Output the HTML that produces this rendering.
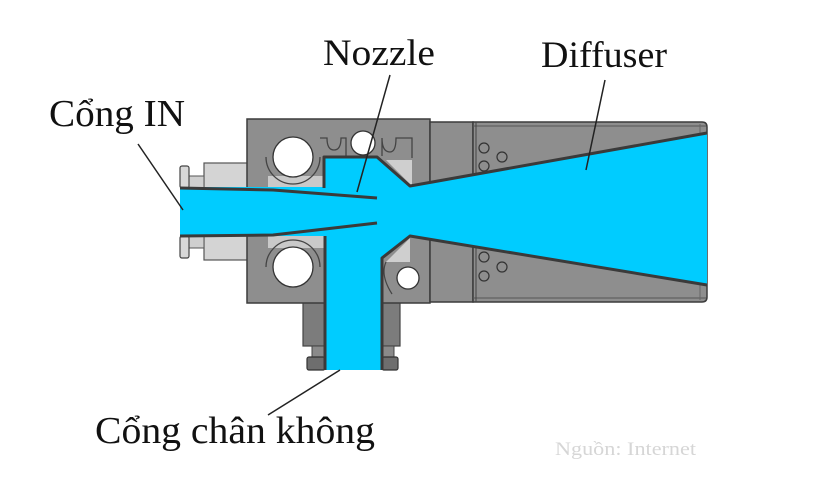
<!DOCTYPE html>
<html>
<head>
<meta charset="utf-8">
<style>
html,body{margin:0;padding:0;background:#fff;}
svg{display:block;}
text{font-family:"Liberation Serif","Noto Serif CJK SC",serif;}
</style>
</head>
<body>
<svg width="825" height="490" viewBox="0 0 825 490" xmlns="http://www.w3.org/2000/svg">
  <rect width="825" height="490" fill="#fff"/>

  <!-- Left inlet fitting -->
  <rect x="204" y="163" width="44" height="26" fill="#d4d4d4" stroke="#555" stroke-width="1.2"/>
  <rect x="204" y="235" width="44" height="25" fill="#d4d4d4" stroke="#555" stroke-width="1.2"/>
  <rect x="189" y="176" width="15" height="12" fill="#cfcfcf" stroke="#555" stroke-width="1"/>
  <rect x="189" y="236" width="15" height="12" fill="#cfcfcf" stroke="#555" stroke-width="1"/>
  <rect x="180" y="166" width="9" height="22" rx="2" fill="#d8d8d8" stroke="#444" stroke-width="1.2"/>
  <rect x="180" y="236" width="9" height="22" rx="2" fill="#d8d8d8" stroke="#444" stroke-width="1.2"/>

  <!-- Lower vacuum fitting -->
  <rect x="303" y="302" width="22" height="44" fill="#7c7c7c" stroke="#444" stroke-width="1.2"/>
  <rect x="382" y="302" width="18" height="44" fill="#7c7c7c" stroke="#444" stroke-width="1.2"/>
  <rect x="312" y="346" width="13" height="12" fill="#8a8a8a" stroke="#444" stroke-width="1"/>
  <rect x="382" y="346" width="12" height="12" fill="#8a8a8a" stroke="#444" stroke-width="1"/>
  <rect x="307" y="357" width="18" height="13" rx="2" fill="#6e6e6e" stroke="#333" stroke-width="1.2"/>
  <rect x="382" y="357" width="16" height="13" rx="2" fill="#6e6e6e" stroke="#333" stroke-width="1.2"/>

  <!-- Main block -->
  <rect x="247" y="119" width="183" height="184" fill="#8e8e8e" stroke="#3c3c3c" stroke-width="1.5"/>
  <!-- middle section -->
  <rect x="430" y="122" width="43" height="180" fill="#8e8e8e" stroke="#3c3c3c" stroke-width="1.5"/>
  <!-- diffuser body -->
  <path d="M473 122 H702 Q707 122 707 127 V297 Q707 302 702 302 H473 Z" fill="#8e8e8e" stroke="#3c3c3c" stroke-width="1.5"/>
  <line x1="473" y1="126" x2="706" y2="126" stroke="#555" stroke-width="1"/>
  <line x1="473" y1="298" x2="706" y2="298" stroke="#555" stroke-width="1"/>
  <line x1="476" y1="122" x2="476" y2="302" stroke="#444" stroke-width="1"/>
  <line x1="700" y1="124" x2="700" y2="300" stroke="#666" stroke-width="1"/>

  <!-- light gray bits inside block -->
  <rect x="268" y="176" width="56" height="12" fill="#c9c9c9"/>
  <rect x="268" y="236" width="56" height="12" fill="#c9c9c9"/>
  <polygon points="386,160 412,160 412,186" fill="#cfcfcf"/>
  <polygon points="386,262 410,238 410,262" fill="#cfcfcf"/>

  <!-- cups around big circles -->
  <path d="M266 157 A27 27 0 0 0 320 157" fill="none" stroke="#444" stroke-width="1.3"/>
  <path d="M266 267 A27 27 0 0 1 320 267" fill="none" stroke="#444" stroke-width="1.3"/>
  <!-- grooves near small top circle -->
  <path d="M320 138 H327 Q327 150 334 150 Q341 150 341 138 H346 V156" fill="none" stroke="#444" stroke-width="1.3"/>
  <path d="M382 156 V138 Q382 152 390 152 Q396 152 396 138 H412 V158" fill="none" stroke="#444" stroke-width="1.3"/>
  <path d="M386 262 Q380 275 392 294" fill="none" stroke="#444" stroke-width="1.2"/>

  <!-- circles -->
  <circle cx="293" cy="157" r="20" fill="#fff" stroke="#333" stroke-width="1.3"/>
  <circle cx="293" cy="267" r="20" fill="#fff" stroke="#333" stroke-width="1.3"/>
  <circle cx="363" cy="143" r="12" fill="#fff" stroke="#333" stroke-width="1.3"/>
  <circle cx="408" cy="278" r="11" fill="#fff" stroke="#333" stroke-width="1.3"/>
  <g fill="none" stroke="#333" stroke-width="1.2">
    <circle cx="484" cy="148" r="5"/>
    <circle cx="484" cy="166" r="5"/>
    <circle cx="502" cy="157" r="5"/>
    <circle cx="484" cy="257" r="5"/>
    <circle cx="484" cy="276" r="5"/>
    <circle cx="502" cy="267" r="5"/>
  </g>

  <!-- Blue flow region -->
  <polygon points="180,187 324,187 324,157 377,157 410,186 707,133 707,285 410,236 382,258 382,370 325,370 325,236 180,236"
           fill="#00ccff"/>

  <!-- dark outlines -->
  <g stroke="#3a3a3a" stroke-width="3" fill="none" stroke-linejoin="round">
    <polyline points="180,188 273,190 377,198"/>
    <polyline points="180,236 273,235 377,223"/>
    <polyline points="324,188 324,157 377,157 410,186 707,133"/>
    <polyline points="707,285 410,236 382,258 382,370"/>
    <line x1="325" y1="236" x2="325" y2="370"/>
  </g>

  <!-- leader lines -->
  <g stroke="#222" stroke-width="1.5">
    <line x1="138" y1="144" x2="183" y2="210"/>
    <line x1="390" y1="75" x2="357" y2="192"/>
    <line x1="605" y1="80" x2="586" y2="170"/>
    <line x1="340" y1="370" x2="268" y2="415"/>
  </g>

  <!-- labels -->
  <text x="49" y="126" font-size="38" fill="#111" textLength="136" lengthAdjust="spacingAndGlyphs">Cổng IN</text>
  <text x="323" y="65" font-size="37" fill="#111" textLength="112" lengthAdjust="spacingAndGlyphs">Nozzle</text>
  <text x="541" y="67" font-size="37" fill="#111" textLength="126" lengthAdjust="spacingAndGlyphs">Diffuser</text>
  <text x="95" y="443" font-size="38" fill="#111" textLength="280" lengthAdjust="spacingAndGlyphs">Cổng chân không</text>
  <text x="555" y="455" font-size="19" fill="#d6d6d6" textLength="141" lengthAdjust="spacingAndGlyphs">Nguồn: Internet</text>
</svg>
</body>
</html>
